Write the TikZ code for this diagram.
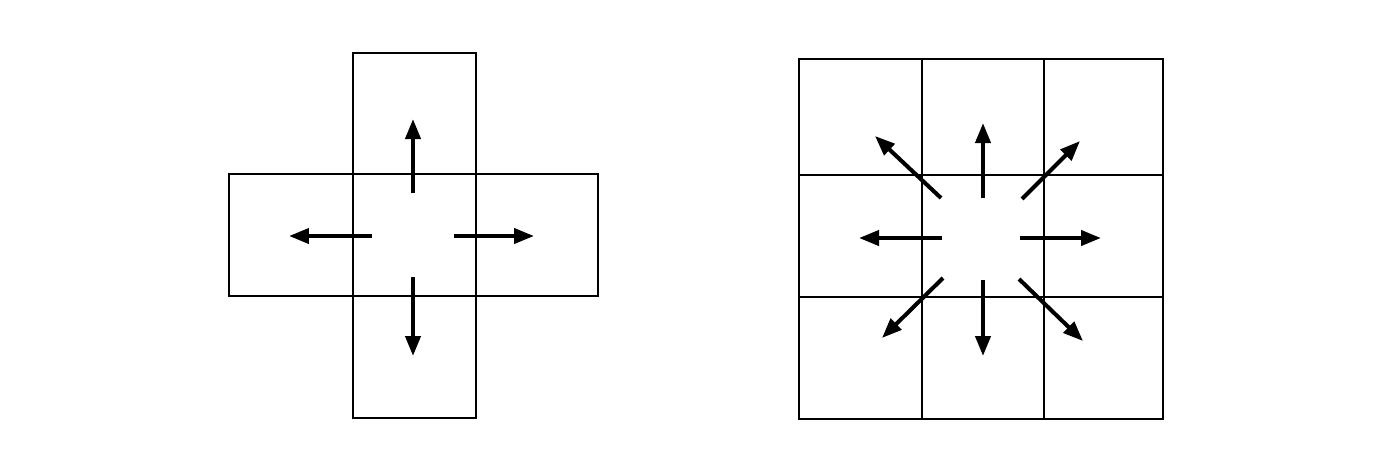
\documentclass[tikz,border=0pt]{standalone}
\usepackage{xcolor}
\usepackage{tikz}
\usetikzlibrary{arrows.meta}

\begin{document}
\begin{tikzpicture}[x=0.02cm,y=-0.02cm,
    cell/.style={draw=black,line width=1.6pt,shape=rectangle,minimum width=2.44cm,minimum height=2.44cm,inner sep=0pt},
    flow/.style={line width=2.3pt,-{Triangle[length=0.4cm,width=0.3cm]}}]
                    \useasboundingbox (0,0) rectangle (1400,451);
                    % left: cross of five cells
                    \node[cell,minimum width=2.46cm] (C) at (414.5,235) {};
                    \node[cell,minimum width=2.46cm,minimum height=2.42cm] (N) at (414.5,113.5) {};
                    \node[cell,minimum width=2.46cm] (S) at (414.5,357) {};
                    \node[cell,minimum width=2.48cm] (W) at (291,235) {};
                    \node[cell] (E) at (537,235) {};

                    \coordinate (Cn) at (413,193);
                    \coordinate (Cs) at (413,277);
                    \coordinate (Cw) at (372,236);
                    \coordinate (Ce) at (454,236);
                    \coordinate (Tn) at (413,119);
                    \coordinate (Ts) at (413,356);
                    \coordinate (Tw) at (289,236);
                    \coordinate (Te) at (534,236);

                    \draw[flow] (Cn) -- (Tn);
                    \draw[flow] (Cs) -- (Ts);
                    \draw[flow] (Cw) -- (Tw);
                    \draw[flow] (Ce) -- (Te);

                    % right: full grid of nine cells
                    \node[cell,minimum width=2.46cm,minimum height=2.32cm] (G11) at (860.5,117) {};
                    \node[cell,minimum height=2.32cm] (G12) at (983,117) {};
                    \node[cell,minimum width=2.38cm,minimum height=2.32cm] (G13) at (1103.5,117) {};
                    \node[cell,minimum width=2.46cm] (G21) at (860.5,236) {};
                    \node[cell] (G22) at (983,236) {};
                    \node[cell,minimum width=2.38cm] (G23) at (1103.5,236) {};
                    \node[cell,minimum width=2.46cm] (G31) at (860.5,358) {};
                    \node[cell] (G32) at (983,358) {};
                    \node[cell,minimum width=2.38cm] (G33) at (1103.5,358) {};

                    \coordinate (Gn) at (983,198);
                    \coordinate (Gs) at (983,280);
                    \coordinate (Gw) at (942,238);
                    \coordinate (Ge) at (1020,238);
                    \coordinate (Gnw) at (941,198);
                    \coordinate (Gne) at (1022,199);
                    \coordinate (Gsw) at (943,278);
                    \coordinate (Gse) at (1019,279);
                    \coordinate (Hn) at (983,123);
                    \coordinate (Hs) at (983,356);
                    \coordinate (Hw) at (859,238);
                    \coordinate (He) at (1101,238);
                    \coordinate (Hnw) at (875,136);
                    \coordinate (Hne) at (1080,141);
                    \coordinate (Hsw) at (882,338);
                    \coordinate (Hse) at (1083,341);

                    \draw[flow] (Gn) -- (Hn);
                    \draw[flow] (Gs) -- (Hs);
                    \draw[flow] (Gw) -- (Hw);
                    \draw[flow] (Ge) -- (He);
                    \draw[flow] (Gnw) -- (Hnw);
                    \draw[flow] (Gne) -- (Hne);
                    \draw[flow] (Gsw) -- (Hsw);
                    \draw[flow] (Gse) -- (Hse);
                 \end{tikzpicture}
\end{document}
